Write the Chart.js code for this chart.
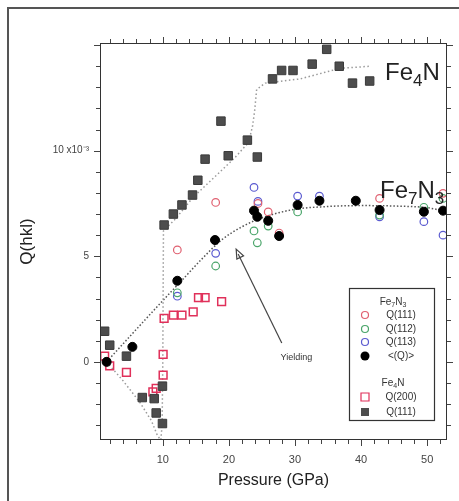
<!DOCTYPE html>
<html><head><meta charset="utf-8">
<script src="https://cdn.jsdelivr.net/npm/chart.js@4/dist/chart.umd.min.js"></script>
<style>html,body{margin:0;padding:0;background:#fff;}#wrap{position:relative;width:459px;height:501px;}</style>
</head><body><div id="wrap"><canvas id="c" width="459" height="501"></canvas></div>
<script>
// ---- data (pressure GPa, Q in units of 1e-3) ----
const avgQ      = [[1.5,0.0],[5.4,0.71],[12.2,3.84],[17.9,5.77],[23.8,7.16],[24.3,6.87],[25.95,6.68],[27.6,5.96],[30.4,7.43],[33.7,7.63],[39.2,7.63],[42.8,7.19],[49.5,7.11],[52.4,7.16]];
const fe7n3Q111 = [[1.5,0.0],[12.2,5.3],[18.0,7.55],[24.4,7.5],[25.95,7.1],[27.6,6.1],[42.8,7.74],[52.4,7.98]];
const fe7n3Q112 = [[1.5,0.0],[12.2,3.27],[18.0,4.54],[23.8,6.2],[24.3,5.64],[25.95,6.43],[30.4,7.1],[42.8,6.95],[49.5,7.32],[52.4,7.74]];
const fe7n3Q113 = [[1.5,0.0],[12.2,3.11],[18.0,5.14],[23.8,8.26],[24.4,7.6],[30.4,7.85],[33.7,7.85],[42.8,6.87],[49.5,6.64],[52.4,6.0]];
const fe4nQ200  = [[1.2,0.27],[1.97,-0.19],[4.5,-0.5],[8.5,-1.42],[9.0,-1.26],[10.05,-0.63],[10.05,0.36],[10.2,2.06],[11.6,2.21],[12.9,2.21],[14.6,2.37],[15.4,3.04],[16.4,3.04],[18.9,2.85]];
const fe4nQ111  = [[1.2,1.45],[1.97,0.79],[4.5,0.27],[6.9,-1.69],[8.7,-1.74],[9.0,-2.42],[9.95,-1.15],[9.95,-2.92],[10.2,6.48],[11.6,7.0],[12.9,7.43],[14.5,7.9],[15.3,8.6],[16.4,9.6],[18.8,11.4],[19.9,9.76],[22.8,10.5],[24.3,9.7],[26.6,13.4],[27.98,13.8],[29.7,13.8],[32.6,14.1],[34.8,14.8],[36.7,14.0],[38.7,13.2],[41.3,13.3]];
const fe4nFit   = [[1.5,0.0],[4,-0.9],[6.5,-1.9],[8.3,-2.8],[9.2,-3.5],[9.7,-3.7],[9.9,-3.0],[10.0,0.0],[10.1,6.2],[12,6.8],[14.6,7.8],[18,8.8],[21,9.7],[23.0,10.4],[23.6,11.2],[23.9,11.9],[24.2,12.9],[25.5,13.2],[30.8,13.4],[36.8,13.9],[41.4,14.0]];
const fe7n3Fit  = [[1.5,0.0],[5,1.2],[10,2.9],[13,3.9],[16,4.9],[19,5.8],[22,6.4],[24.4,6.75],[29.5,7.2],[34.5,7.35],[40,7.4],[45,7.38],[50,7.3],[52.5,7.15]];
const xTickLabels = [10,20,30,40,50];
const yTickLabels = [0,5,10];
const legendLabels = ['Q(111)','Q(112)','Q(113)','<(Q)>','Q(200)','Q(111)'];

const FONT = '"Liberation Sans", Arial, Helvetica, sans-serif';
const C_RED = '#e0305a', C_PINK='#e06070', C_GREEN='#4aa56a', C_BLUE='#5a5ad0', C_GRAY='#4d4d4d';
const pts = a => a.map(p => ({x:p[0], y:p[1]}));

function drawSub(ctx, parts, x, y) {
  // parts: [text, isSub]
  let cx = x;
  for (const [t, sub] of parts) {
    ctx.font = (sub ? '17px ' : '24px ') + FONT;
    ctx.fillText(t, cx, sub ? y + 6 : y);
    cx += ctx.measureText(t).width;
  }
}
function drawSubSmall(ctx, parts, cxCenter, y) {
  let w = 0;
  for (const [t, sub] of parts) { ctx.font = (sub ? '7px ' : '10px ') + FONT; w += ctx.measureText(t).width; }
  let cx = cxCenter - w/2;
  for (const [t, sub] of parts) {
    ctx.font = (sub ? '7px ' : '10px ') + FONT;
    ctx.fillText(t, cx, sub ? y + 3 : y);
    cx += ctx.measureText(t).width;
  }
}

const decor = {
  id: 'decor',
  beforeDraw(chart) {
    const ctx = chart.ctx;
    ctx.save();
    ctx.fillStyle = '#fff';
    ctx.fillRect(0, 0, chart.width, chart.height);
    ctx.fillStyle = '#555';
    ctx.fillRect(7, 7, chart.width - 7, 2);
    ctx.fillRect(7, 7, 2, chart.height - 7);
    ctx.restore();
  },
  afterDraw(chart) {
    const ctx = chart.ctx, a = chart.chartArea;
    const xs = chart.scales.x, ys = chart.scales.y;
    ctx.save();
    // plot border
    ctx.strokeStyle = '#333'; ctx.lineWidth = 1;
    ctx.strokeRect(a.left + 0.5, a.top + 0.5, a.right - a.left - 1, a.bottom - a.top - 1);
    // ticks
    ctx.strokeStyle = '#444';
    ctx.beginPath();
    for (let v = 2; v <= 52; v += 2) {
      const px = Math.round(xs.getPixelForValue(v)) + 0.5;
      const L = (v % 10 === 0) ? 6 : 4;
      ctx.moveTo(px, a.bottom); ctx.lineTo(px, a.bottom + L);
      ctx.moveTo(px, a.top); ctx.lineTo(px, a.top - L);
    }
    for (let v = -3; v <= 15; v += 1) {
      const py = Math.round(ys.getPixelForValue(v)) + 0.5;
      const L = (v % 5 === 0) ? 6 : 4;
      ctx.moveTo(a.left, py); ctx.lineTo(a.left - L, py);
      ctx.moveTo(a.right, py); ctx.lineTo(a.right + L, py);
    }
    ctx.stroke();

    // big labels
    ctx.fillStyle = '#222'; ctx.textBaseline = 'alphabetic'; ctx.textAlign = 'left';
    drawSub(ctx, [['Fe',0],['4',1],['N',0]], 385, 80);
    drawSub(ctx, [['Fe',0],['7',1],['N',0],['3',1]], 380, 198);

    // yielding arrow
    const x0 = xs.getPixelForValue(28.0), y0 = ys.getPixelForValue(0.89);
    const x1 = xs.getPixelForValue(21.1), y1 = ys.getPixelForValue(5.34);
    ctx.strokeStyle = '#444'; ctx.lineWidth = 1.2;
    ctx.beginPath(); ctx.moveTo(x0, y0); ctx.lineTo(x1 + 2, y1 + 5); ctx.stroke();
    const ang = Math.atan2(y1 - y0, x1 - x0);
    const hl = 10, hw = 0.38;
    ctx.beginPath();
    ctx.moveTo(x1, y1);
    ctx.lineTo(x1 - hl*Math.cos(ang - hw), y1 - hl*Math.sin(ang - hw));
    ctx.lineTo(x1 - hl*Math.cos(ang + hw), y1 - hl*Math.sin(ang + hw));
    ctx.closePath(); ctx.stroke();
    ctx.fillStyle = '#333'; ctx.font = '9px ' + FONT; ctx.textAlign = 'center'; ctx.textBaseline = 'middle';
    ctx.fillText('Yielding', xs.getPixelForValue(30.2), ys.getPixelForValue(0.22));

    // legend
    const L = {l: 349, t: 288, r: 435, b: 421};
    ctx.strokeStyle = '#333'; ctx.lineWidth = 1.2;
    ctx.fillStyle = '#fff';
    ctx.fillRect(L.l, L.t, L.r - L.l, L.b - L.t);
    ctx.strokeRect(L.l + 0.5, L.t + 0.5, L.r - L.l - 1, L.b - L.t - 1);
    ctx.fillStyle = '#333'; ctx.textAlign = 'left'; ctx.textBaseline = 'middle';
    drawSubSmall(ctx, [['Fe',0],['7',1],['N',0],['3',1]], 393, 302);
    drawSubSmall(ctx, [['Fe',0],['4',1],['N',0]], 393, 383);
    const rows = [
      {y:315, t:'circ', c:C_PINK, fill:false},
      {y:329, t:'circ', c:C_GREEN, fill:false},
      {y:342, t:'circ', c:C_BLUE, fill:false},
      {y:356, t:'circ', c:'#000', fill:true},
      {y:397, t:'sq', c:C_RED, fill:false},
      {y:412, t:'sq', c:C_GRAY, fill:true}
    ];
    const mx = 365;
    rows.forEach((r, i) => {
      ctx.lineWidth = 1.2;
      ctx.strokeStyle = r.c; ctx.fillStyle = r.c;
      ctx.beginPath();
      if (r.t === 'circ') ctx.arc(mx, r.y, r.fill ? 4.5 : 3.5, 0, Math.PI*2);
      else ctx.rect(mx - 4, r.y - 4, 8, 8);
      if (r.fill) ctx.fill(); else ctx.stroke();
      ctx.fillStyle = '#333'; ctx.font = '10px ' + FONT; ctx.textAlign = 'center';
      ctx.fillText(legendLabels[i], 401, r.y);
    });
    ctx.restore();
  }
};

new Chart(document.getElementById('c'), {
  type: 'scatter',
  data: { datasets: [
    {label:'<(Q)>', data: pts(avgQ), pointStyle:'circle', pointRadius:4.5, backgroundColor:'#000', borderColor:'#000', borderWidth:1},
    {label:'Fe4N Q(111)', data: pts(fe4nQ111), pointStyle:'rect', pointRadius:6, backgroundColor:C_GRAY, borderColor:'#3a3a3a', borderWidth:1},
    {label:'Fe4N Q(200)', data: pts(fe4nQ200), pointStyle:'rect', pointRadius:5.5, backgroundColor:'rgba(255,255,255,0)', borderColor:C_RED, borderWidth:1.5},
    {label:'Q(111)', data: pts(fe7n3Q111), pointStyle:'circle', pointRadius:3.8, backgroundColor:'rgba(255,255,255,0)', borderColor:C_PINK, borderWidth:1.2},
    {label:'Q(112)', data: pts(fe7n3Q112), pointStyle:'circle', pointRadius:3.8, backgroundColor:'rgba(255,255,255,0)', borderColor:C_GREEN, borderWidth:1.2},
    {label:'Q(113)', data: pts(fe7n3Q113), pointStyle:'circle', pointRadius:3.8, backgroundColor:'rgba(255,255,255,0)', borderColor:C_BLUE, borderWidth:1.2},
    {label:'Fe4N fit', data: pts(fe4nFit), showLine:true, pointRadius:0, borderColor:'#9a9a9a', borderWidth:1.5, borderDash:[1.5,2.5], tension:0, order:10},
    {label:'Fe7N3 fit', data: pts(fe7n3Fit), showLine:true, pointRadius:0, borderColor:'#555', borderWidth:1.5, borderDash:[1.5,2], tension:0.3, cubicInterpolationMode:'monotone', order:10}
  ]},
  options: {
    responsive: false, animation: false, devicePixelRatio: 1,
    layout: { padding: { left: 0, right: 12, top: 43, bottom: 0 } },
    plugins: { legend: { display: false }, tooltip: { enabled: false } },
    scales: {
      x: {
        type: 'linear', min: 0.5, max: 53,
        grid: { display: false, drawTicks: false }, border: { display: false },
        afterBuildTicks: s => { s.ticks = xTickLabels.map(v => ({value: v})); },
        afterFit: s => { s.height = 61; },
        ticks: { padding: 13, color: '#444', font: { family: FONT, size: 11 }, callback: v => String(v) },
        title: { display: true, text: 'Pressure (GPa)', color: '#222', font: { family: FONT, size: 16 }, padding: { top: 11, bottom: 11 } }
      },
      y: {
        type: 'linear', min: -3.7, max: 15.1,
        grid: { display: false, drawTicks: false }, border: { display: false },
        afterBuildTicks: s => { s.ticks = yTickLabels.map(v => ({value: v})); },
        afterFit: s => { s.width = 100; },
        ticks: { padding: 11, color: '#444', font: { family: FONT, size: 10 }, callback: v => v === 10 ? '10 x10\u207B\u00B3' : String(v) },
        title: { display: true, text: 'Q(hkl)', color: '#222', font: { family: FONT, size: 17 }, padding: { top: 17, bottom: 17 } }
      }
    }
  },
  plugins: [decor]
});
</script></body></html>
